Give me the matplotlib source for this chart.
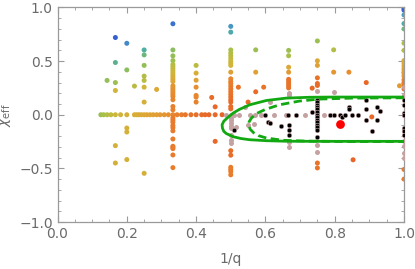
import numpy as np
import matplotlib
matplotlib.use("Agg")
import matplotlib.pyplot as plt
from matplotlib.colors import LinearSegmentedColormap

# ---------------- data ----------------
# coloured points: x (1/q), y (chi_eff), colour value c (0 = blue ... 1 = red-orange)
row0_x = [0.125, 0.133, 0.143, 0.154, 0.167, 0.182, 0.2,
          0.222, 0.229, 0.235, 0.242, 0.25, 0.258, 0.267, 0.276, 0.286, 0.296, 0.308, 0.32, 0.333,
          0.345, 0.358, 0.369, 0.385, 0.4, 0.416, 0.426, 0.437, 0.455, 0.475]
row0_c = [0.42, 0.45, 0.48, 0.52, 0.55, 0.58, 0.6,
          0.62, 0.62, 0.63, 0.64, 0.65, 0.66, 0.67, 0.68, 0.69, 0.7, 0.72, 0.74, 0.78,
          0.8, 0.82, 0.84, 0.86, 0.87, 0.88, 0.89, 0.9, 0.9, 0.92]

pts = [
    (0.143, 0.32, 0.40),
    (0.167, 0.72, 0.02), (0.167, 0.487, 0.25), (0.167, 0.30, 0.42), (0.167, 0.226, 0.58),
    (0.167, -0.288, 0.60), (0.167, -0.45, 0.60),
    (0.2, 0.666, 0.08), (0.2, 0.418, 0.38), (0.2, -0.124, 0.60), (0.2, -0.161, 0.60), (0.2, -0.418, 0.60),
    (0.222, 0.267, 0.50),
    (0.25, 0.604, 0.22), (0.25, 0.558, 0.30), (0.25, 0.46, 0.40), (0.25, 0.36, 0.48), (0.25, 0.32, 0.50),
    (0.25, 0.257, 0.58), (0.25, 0.118, 0.60), (0.25, -0.546, 0.60),
    (0.286, 0.236, 0.65),
    (0.333, 0.848, 0.05), (0.333, 0.604, 0.38), (0.333, 0.549, 0.40), (0.333, 0.505, 0.42),
    (0.333, 0.47, 0.48), (0.333, 0.45, 0.50), (0.333, 0.43, 0.52), (0.333, 0.41, 0.54), (0.333, 0.39, 0.56),
    (0.333, 0.37, 0.58), (0.333, 0.35, 0.60), (0.333, 0.33, 0.63), (0.333, 0.31, 0.66),
    (0.333, 0.27, 0.72), (0.333, 0.25, 0.73), (0.333, 0.23, 0.74), (0.333, 0.21, 0.75), (0.333, 0.19, 0.76),
    (0.333, 0.17, 0.77), (0.333, 0.14, 0.78), (0.333, 0.077, 0.80), (0.333, 0.046, 0.80),
    (0.333, -0.03, 0.82), (0.333, -0.05, 0.82), (0.333, -0.07, 0.82), (0.333, -0.10, 0.82),
    (0.333, -0.12, 0.82), (0.333, -0.15, 0.82), (0.333, -0.226, 0.82), (0.333, -0.294, 0.82),
    (0.333, -0.305, 0.82), (0.333, -0.316, 0.82), (0.333, -0.375, 0.82), (0.333, -0.493, 0.82),
    (0.4, 0.46, 0.50), (0.4, 0.388, 0.62), (0.4, 0.322, 0.68), (0.4, 0.257, 0.75), (0.4, 0.18, 0.78),
    (0.4, 0.164, 0.78), (0.4, 0.118, 0.80),
    (0.445, 0.161, 0.88), (0.455, 0.074, 0.90), (0.455, -0.248, 0.90),
    (0.5, 0.824, 0.10), (0.5, 0.77, 0.18), (0.5, 0.604, 0.45), (0.5, 0.575, 0.48), (0.5, 0.55, 0.50),
    (0.5, 0.525, 0.52), (0.5, 0.5, 0.54), (0.5, 0.48, 0.56), (0.5, 0.46, 0.58), (0.5, 0.397, 0.68),
    (0.5, 0.335, 0.78), (0.5, 0.31, 0.80), (0.5, 0.29, 0.81), (0.5, 0.265, 0.82), (0.5, 0.24, 0.83),
    (0.5, 0.215, 0.84), (0.5, 0.19, 0.85), (0.5, 0.165, 0.86), (0.5, 0.14, 0.87), (0.5, 0.118, 0.88),
    (0.5, 0.077, 0.88), (0.5, 0.055, 0.88),
    (0.5, -0.335, 0.88), (0.5, -0.377, 0.88), (0.5, -0.49, 0.82), (0.5, -0.51, 0.82),
    (0.5, -0.53, 0.82), (0.5, -0.56, 0.82),
    (0.522, 0.257, 0.85), (0.55, 0.118, 0.90), (0.572, 0.605, 0.42), (0.572, 0.397, 0.68),
    (0.572, 0.214, 0.88), (0.595, 0.257, 0.85),
    (0.667, 0.60, 0.42), (0.667, 0.55, 0.45), (0.667, 0.443, 0.65), (0.667, 0.397, 0.70),
    (0.667, 0.33, 0.85), (0.667, 0.31, 0.85), (0.667, 0.29, 0.85), (0.667, 0.27, 0.85), (0.667, 0.25, 0.85),
    (0.75, 0.688, 0.42), (0.75, 0.503, 0.65), (0.75, 0.46, 0.68), (0.75, 0.344, 0.85),
    (0.75, 0.291, 0.88), (0.75, 0.273, 0.88), (0.735, 0.248, 0.90),
    (0.75, -0.45, 0.85), (0.75, -0.496, 0.85),
    (0.797, 0.605, 0.48), (0.797, 0.397, 0.72), (0.841, 0.397, 0.75), (0.891, 0.30, 0.90),
    (0.907, -0.02, 0.90), (0.853, -0.42, 0.92),
    (1.0, 0.99, 0.00), (1.0, 0.975, 0.02), (1.0, 0.93, 0.12), (1.0, 0.85, 0.20), (1.0, 0.80, 0.30),
    (1.0, 0.667, 0.45), (1.0, 0.60, 0.50), (1.0, 0.505, 0.62), (1.0, 0.48, 0.64), (1.0, 0.455, 0.66),
    (1.0, 0.43, 0.68), (1.0, 0.41, 0.69), (1.0, 0.385, 0.70), (1.0, 0.36, 0.72),
    (1.0, 0.325, 0.80), (1.0, 0.30, 0.82), (1.0, 0.28, 0.82), (1.0, 0.24, 0.85),
    (1.0, -0.51, 0.82), (1.0, -0.60, 0.82), (0.987, 0.27, 0.70),
]
col_x = row0_x + [p[0] for p in pts]
col_y = [0.0] * len(row0_x) + [p[1] for p in pts]
col_c = row0_c + [p[2] for p in pts]

gray_x = [0.487, 0.5, 0.51, 0.525, 0.555, 0.57, 0.588, 0.625, 0.66, 0.714, 0.768,
          0.541, 0.612, 0.514, 0.568, 0.55,
          0.5, 0.5, 0.5, 0.5, 0.5, 0.5, 0.5, 0.5,
          0.667, 0.667, 0.667, 0.667,
          0.75, 0.75, 0.75, 0.797,
          1.0, 1.0, 1.0, 1.0, 1.0, 1.0, 1.0]
gray_y = [0, 0, 0, 0, 0, 0, 0, 0, 0, 0, 0,
          0.074, 0.121, -0.115, -0.084, -0.1,
          -0.031, -0.053, -0.078, -0.102, -0.124, -0.186, -0.233, -0.264,
          0.2, 0.18, -0.25, -0.30,
          0.217, -0.28, -0.347, 0.214,
          0.257, 0.186, -0.004, -0.248, -0.293, -0.355, -0.40]

black_x = [0.508, 0.6, 0.608, 0.612, 0.644, 0.665, 0.687,
           0.667, 0.667, 0.667,
           0.75, 0.75, 0.75, 0.75, 0.75, 0.75, 0.75, 0.75, 0.75, 0.75, 0.75, 0.75, 0.75, 0.75, 0.735,
           0.787, 0.798, 0.816, 0.82, 0.831, 0.84, 0.84, 0.85, 0.868, 0.891, 0.891, 0.891,
           0.923, 0.932, 0.923, 0.907,
           1.0, 1.0, 1.0, 1.0, 1.0, 1.0, 1.0]
black_y = [-0.14, 0.0, -0.068, -0.08, -0.109, 0.0, 0.0,
           -0.093, -0.14, -0.19,
           0.14, 0.116, 0.093, 0.07, 0.05, 0.028, 0.0, -0.02, -0.047, -0.07, -0.093, -0.116, -0.14, -0.21, 0.022,
           0.0, 0.0, 0.0, -0.02, 0.0, 0.075, 0.05, 0.0, 0.0, 0.14, 0.053, -0.05,
           0.068, 0.031, -0.05, -0.149,
           0.14, 0.093, 0.016, 0.0, -0.12, -0.155, -0.186]

red_x = [0.814]
red_y = [-0.084]

# contours
solid_x = [1.0, 0.9, 0.8, 0.728, 0.66, 0.603, 0.555, 0.525, 0.507, 0.49, 0.48, 0.475, 0.476,
           0.48, 0.487, 0.507, 0.53, 0.555, 0.603, 0.66, 0.75, 0.85, 1.0]
solid_y = [0.165, 0.165, 0.165, 0.163, 0.155, 0.133, 0.093, 0.05, 0.016, -0.03, -0.06, -0.093, -0.125,
           -0.155, -0.175, -0.205, -0.222, -0.233, -0.242, -0.247, -0.248, -0.248, -0.248]
dash_x = [1.0, 0.85, 0.757, 0.699, 0.641, 0.6, 0.575, 0.56, 0.553, 0.552, 0.556, 0.566, 0.58,
          0.603, 0.65, 0.72, 0.85, 1.0]
dash_y = [0.158, 0.155, 0.146, 0.128, 0.093, 0.05, 0.012, -0.03, -0.065, -0.1, -0.135, -0.168, -0.195,
          -0.217, -0.238, -0.246, -0.25, -0.25]

# ---------------- plot ----------------
cmap = LinearSegmentedColormap.from_list(
    "rb", ["#2f52d6", "#4aa0c0", "#4fae9c", "#79bb6c", "#a6c04a", "#cdb83a",
           "#dfa535", "#e8872e", "#e86a28", "#e35a22"])

fig = plt.figure(figsize=(4.15, 2.69), dpi=100)
ax = fig.add_axes([0.1386, 0.1747, 0.8349, 0.7975])

ax.scatter(col_x, col_y, c=col_c, cmap=cmap, vmin=0, vmax=1, s=13, linewidths=0, zorder=2)
ax.scatter(gray_x, gray_y, color="#c4a2a2", s=13, linewidths=0, zorder=3)
ax.scatter(black_x, black_y, color="black", s=11, linewidths=0.4, edgecolors="#c9a9a9", zorder=4)
ax.plot(solid_x, solid_y, color="#12a812", lw=2.0, zorder=5, solid_joinstyle="round")
ax.plot(dash_x, dash_y, color="#12a812", lw=2.0, ls=(0, (3, 1.6)), zorder=5)
ax.scatter(red_x, red_y, color="#ff0000", s=40, linewidths=0, zorder=6)

ax.set_xlim(0, 1)
ax.set_ylim(-1, 1)
ax.set_xticks([0, 0.2, 0.4, 0.6, 0.8, 1.0])
ax.set_xticklabels(["0.0", "0.2", "0.4", "0.6", "0.8", "1.0"])
ax.set_yticks([-1, -0.5, 0, 0.5, 1.0])
ax.set_yticklabels(["\u22121.0", "\u22120.5", "0.0", "0.5", "1.0"])
ax.set_xticks(np.arange(0, 1.0001, 0.05), minor=True)
ax.set_yticks(np.arange(-1, 1.0001, 0.1), minor=True)

fc = "#9a9a9a"
for s in ax.spines.values():
    s.set_color(fc)
    s.set_linewidth(0.9)
ax.tick_params(which="both", direction="in", top=True, right=True, color=fc,
               labelcolor="#6a6a6a", labelsize=10)
ax.tick_params(which="major", length=4, width=0.8)
ax.tick_params(which="minor", length=2.2, width=0.6)
ax.set_xlabel("1/q", color="#6a6a6a", fontsize=10, labelpad=8)
ax.set_ylabel(r"$\chi_{\rm eff}$", color="#6a6a6a", fontsize=10, labelpad=4)

fig.savefig("out.png", dpi=100)
